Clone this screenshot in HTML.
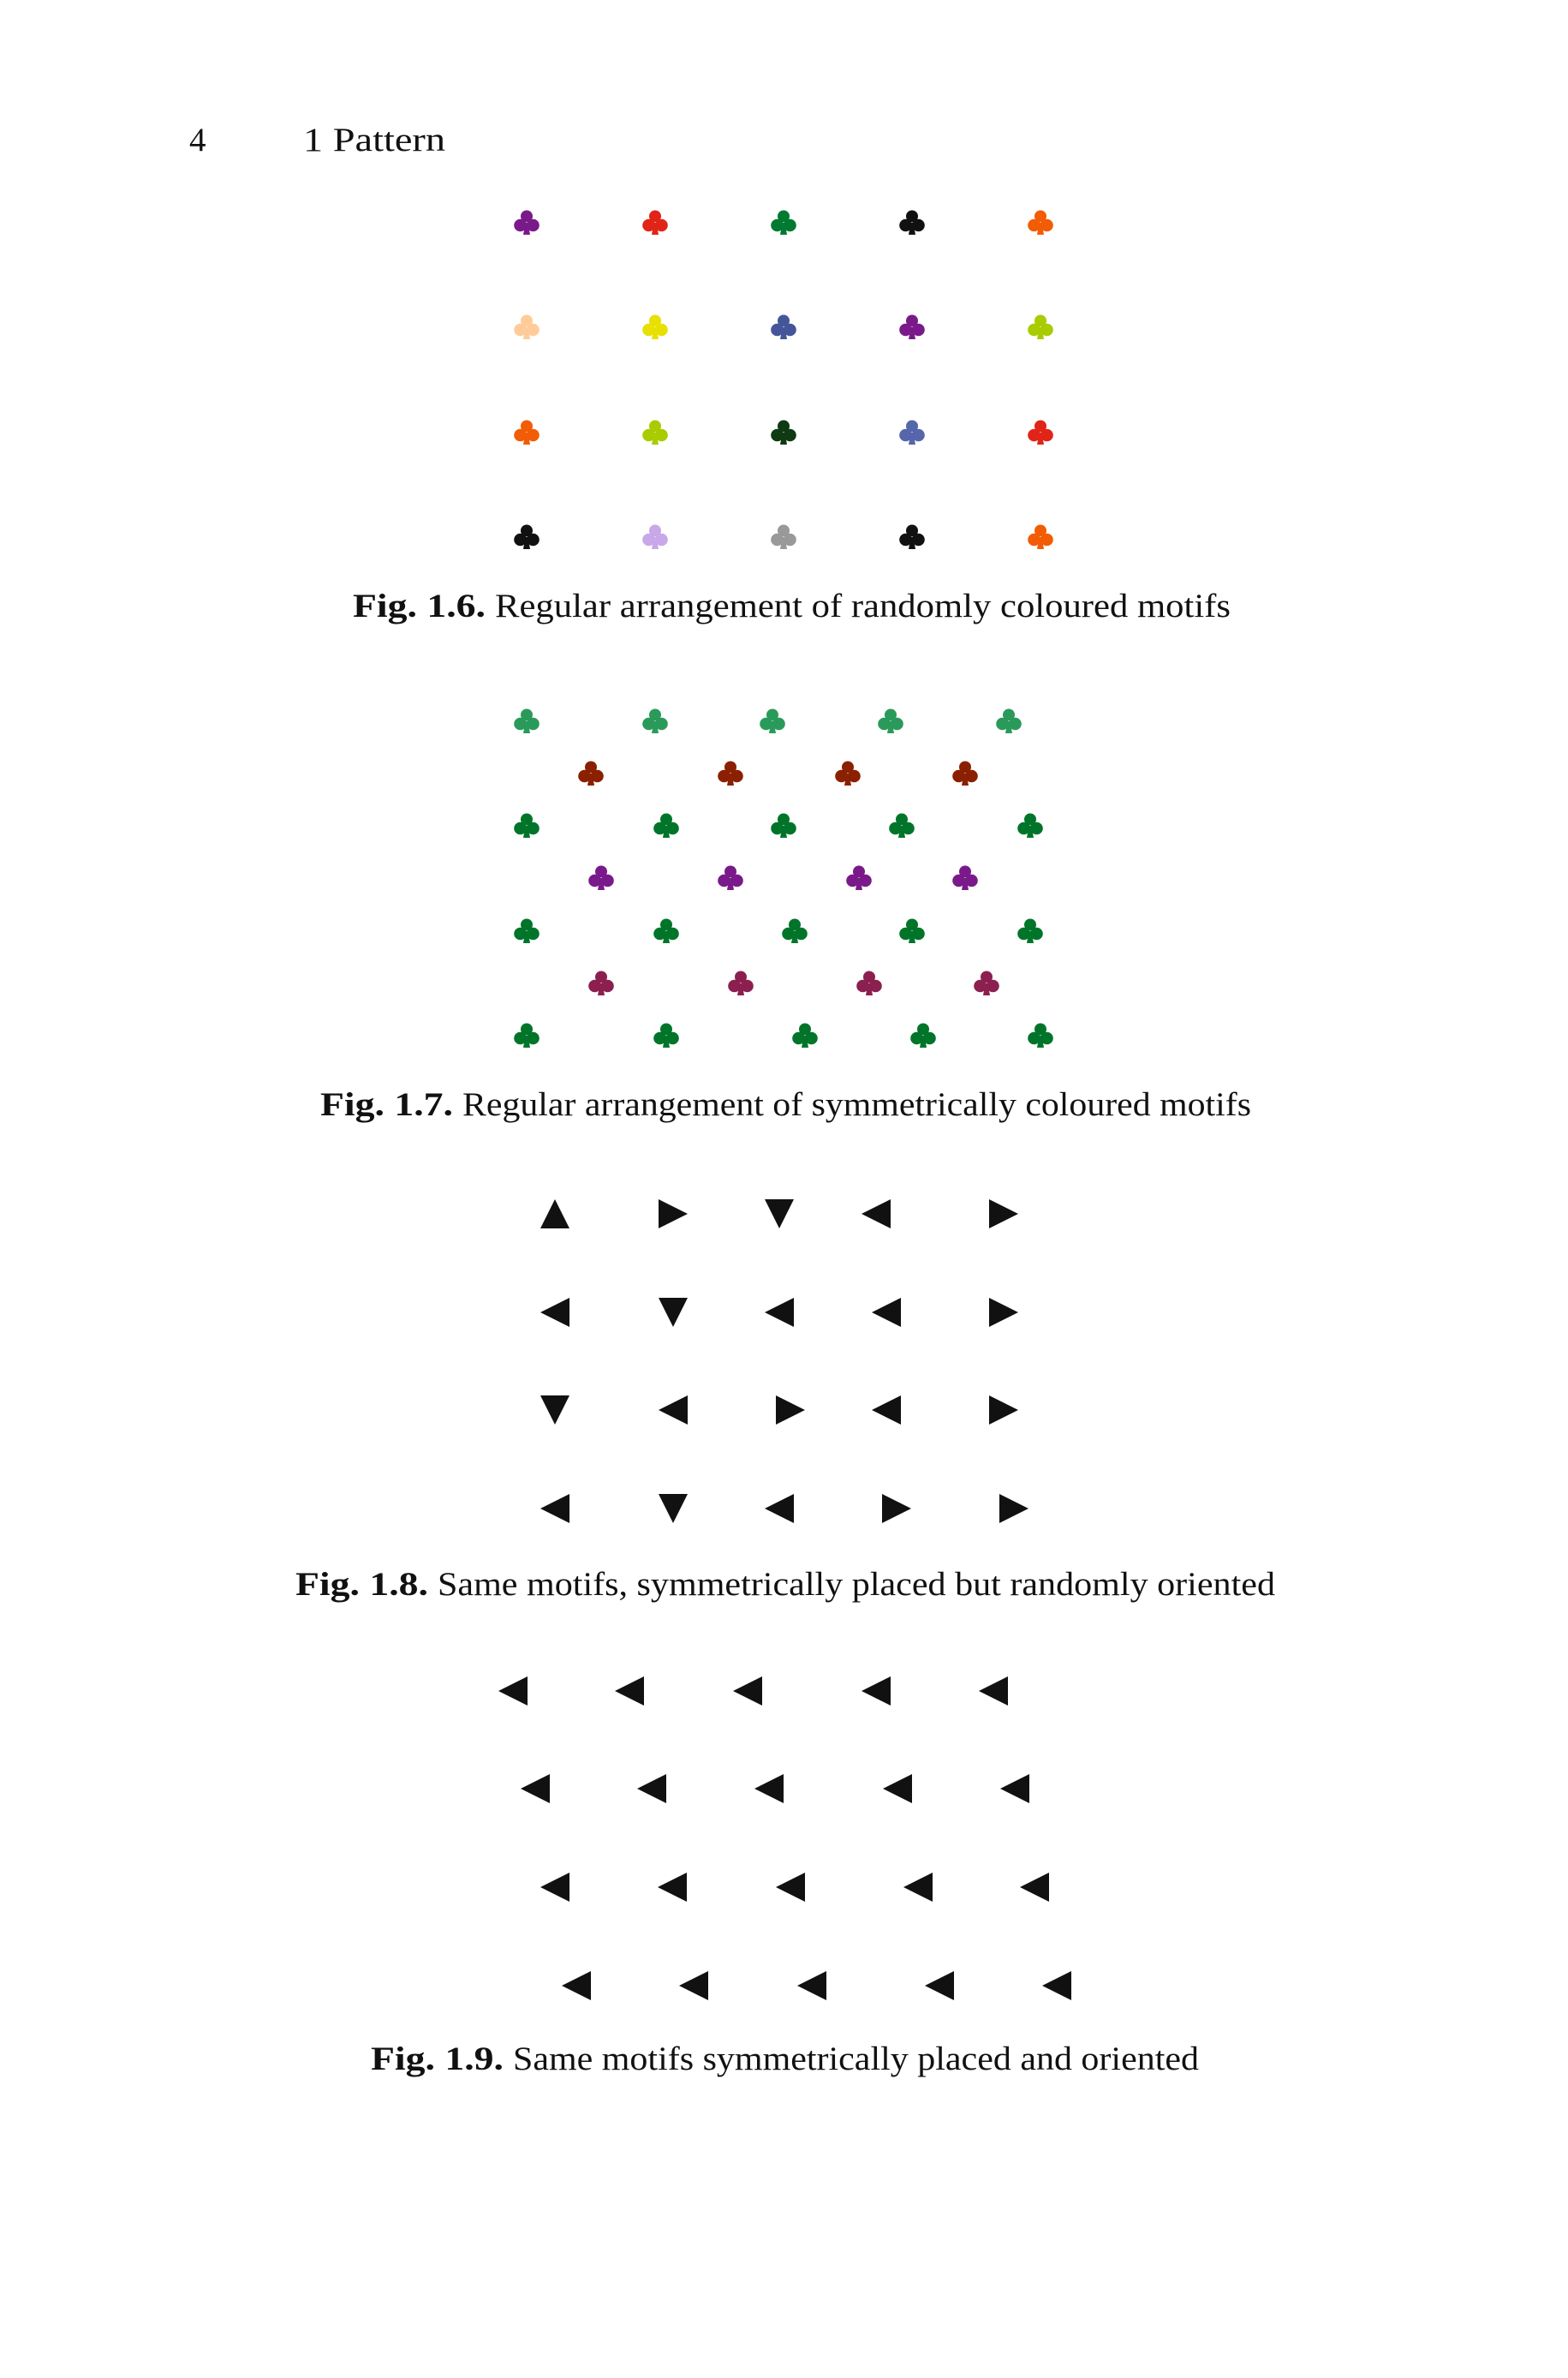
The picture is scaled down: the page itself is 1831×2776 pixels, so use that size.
<!DOCTYPE html>
<html><head><meta charset="utf-8"><style>
html,body{margin:0;padding:0;background:#fff}
svg{display:block}
text{font-family:"Liberation Serif",serif;font-size:39px;fill:#111}
.b{font-weight:bold}
</style></head><body>
<svg width="1831" height="2776" viewBox="0 0 1831 2776" xmlns="http://www.w3.org/2000/svg">
<defs>
<g id="c"><circle cx="0" cy="-7.5" r="7"/><circle cx="-7.5" cy="3" r="7.3"/><circle cx="7.5" cy="3" r="7.3"/><path d="M-1.5 0 L1.5 0 L4 14 L-4 14 Z"/></g>
<path id="L" d="M-17 0 L17 -17 L17 17 Z" fill="#111"/>
<path id="R" d="M17 0 L-17 -17 L-17 17 Z" fill="#111"/>
<path id="U" d="M0 -17 L17 17 L-17 17 Z" fill="#111"/>
<path id="D" d="M0 17 L17 -17 L-17 -17 Z" fill="#111"/>
</defs>
<text x="221" y="176">4</text>
<text x="354" y="176" textLength="166" lengthAdjust="spacingAndGlyphs">1 Pattern</text>

<!-- Fig 1.6 -->
<use href="#c" x="615" y="260" fill="#7a1a8a"/><use href="#c" x="765" y="260" fill="#e02418"/><use href="#c" x="915" y="260" fill="#007a30"/><use href="#c" x="1065" y="260" fill="#111"/><use href="#c" x="1215" y="260" fill="#f25c05"/>
<use href="#c" x="615" y="382" fill="#ffcc99"/><use href="#c" x="765" y="382" fill="#e8e000"/><use href="#c" x="915" y="382" fill="#44559a"/><use href="#c" x="1065" y="382" fill="#7a1a8a"/><use href="#c" x="1215" y="382" fill="#a8cc00"/>
<use href="#c" x="615" y="505" fill="#f25c05"/><use href="#c" x="765" y="505" fill="#a8cc00"/><use href="#c" x="915" y="505" fill="#0f3a14"/><use href="#c" x="1065" y="505" fill="#5566aa"/><use href="#c" x="1215" y="505" fill="#e02418"/>
<use href="#c" x="615" y="627" fill="#111"/><use href="#c" x="765" y="627" fill="#c8a8e8"/><use href="#c" x="915" y="627" fill="#999"/><use href="#c" x="1065" y="627" fill="#111"/><use href="#c" x="1215" y="627" fill="#f25c05"/>
<text class="b" x="412" y="720" textLength="155" lengthAdjust="spacingAndGlyphs">Fig. 1.6.</text>
<text x="578" y="720" textLength="859" lengthAdjust="spacingAndGlyphs">Regular arrangement of randomly coloured motifs</text>

<!-- Fig 1.7 -->
<g fill="#2a9a5a"><use href="#c" x="615" y="842"/><use href="#c" x="765" y="842"/><use href="#c" x="902" y="842"/><use href="#c" x="1040" y="842"/><use href="#c" x="1178" y="842"/></g>
<g fill="#8b2000"><use href="#c" x="690" y="903"/><use href="#c" x="853" y="903"/><use href="#c" x="990" y="903"/><use href="#c" x="1127" y="903"/></g>
<g fill="#00752a"><use href="#c" x="615" y="964"/><use href="#c" x="778" y="964"/><use href="#c" x="915" y="964"/><use href="#c" x="1053" y="964"/><use href="#c" x="1203" y="964"/></g>
<g fill="#7a1a8a"><use href="#c" x="702" y="1025"/><use href="#c" x="853" y="1025"/><use href="#c" x="1003" y="1025"/><use href="#c" x="1127" y="1025"/></g>
<g fill="#00752a"><use href="#c" x="615" y="1087"/><use href="#c" x="778" y="1087"/><use href="#c" x="928" y="1087"/><use href="#c" x="1065" y="1087"/><use href="#c" x="1203" y="1087"/></g>
<g fill="#8b2050"><use href="#c" x="702" y="1148"/><use href="#c" x="865" y="1148"/><use href="#c" x="1015" y="1148"/><use href="#c" x="1152" y="1148"/></g>
<g fill="#00752a"><use href="#c" x="615" y="1209"/><use href="#c" x="778" y="1209"/><use href="#c" x="940" y="1209"/><use href="#c" x="1078" y="1209"/><use href="#c" x="1215" y="1209"/></g>
<text class="b" x="374" y="1302" textLength="155" lengthAdjust="spacingAndGlyphs">Fig. 1.7.</text>
<text x="540" y="1302" textLength="921" lengthAdjust="spacingAndGlyphs">Regular arrangement of symmetrically coloured motifs</text>

<!-- Fig 1.8 -->
<use href="#U" x="648" y="1417"/><use href="#R" x="786" y="1417"/><use href="#D" x="910" y="1417"/><use href="#L" x="1023" y="1417"/><use href="#R" x="1172" y="1417"/>
<use href="#L" x="648" y="1532"/><use href="#D" x="786" y="1532"/><use href="#L" x="910" y="1532"/><use href="#L" x="1035" y="1532"/><use href="#R" x="1172" y="1532"/>
<use href="#D" x="648" y="1646"/><use href="#L" x="786" y="1646"/><use href="#R" x="923" y="1646"/><use href="#L" x="1035" y="1646"/><use href="#R" x="1172" y="1646"/>
<use href="#L" x="648" y="1761"/><use href="#D" x="786" y="1761"/><use href="#L" x="910" y="1761"/><use href="#R" x="1047" y="1761"/><use href="#R" x="1184" y="1761"/>
<text class="b" x="345" y="1862" textLength="155" lengthAdjust="spacingAndGlyphs">Fig. 1.8.</text>
<text x="511" y="1862" textLength="978" lengthAdjust="spacingAndGlyphs">Same motifs, symmetrically placed but randomly oriented</text>

<!-- Fig 1.9 -->
<use href="#L" x="599" y="1974"/><use href="#L" x="735" y="1974"/><use href="#L" x="873" y="1974"/><use href="#L" x="1023" y="1974"/><use href="#L" x="1160" y="1974"/>
<use href="#L" x="625" y="2088"/><use href="#L" x="761" y="2088"/><use href="#L" x="898" y="2088"/><use href="#L" x="1048" y="2088"/><use href="#L" x="1185" y="2088"/>
<use href="#L" x="648" y="2203"/><use href="#L" x="785" y="2203"/><use href="#L" x="923" y="2203"/><use href="#L" x="1072" y="2203"/><use href="#L" x="1208" y="2203"/>
<use href="#L" x="673" y="2318"/><use href="#L" x="810" y="2318"/><use href="#L" x="948" y="2318"/><use href="#L" x="1097" y="2318"/><use href="#L" x="1234" y="2318"/>
<text class="b" x="433" y="2416" textLength="155" lengthAdjust="spacingAndGlyphs">Fig. 1.9.</text>
<text x="599" y="2416" textLength="801" lengthAdjust="spacingAndGlyphs">Same motifs symmetrically placed and oriented</text>
</svg>
</body></html>
